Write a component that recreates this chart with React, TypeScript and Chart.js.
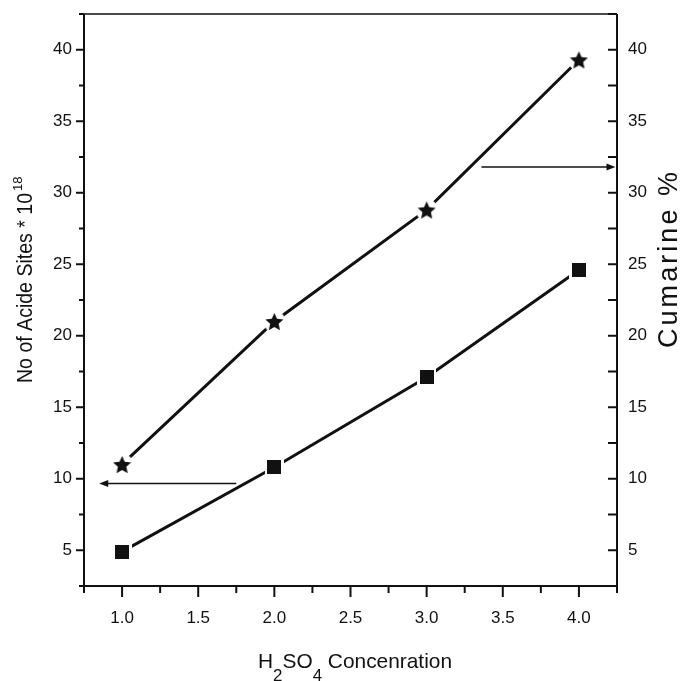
import React, { useEffect, useRef } from 'react';
import { Chart, registerables } from 'chart.js';

Chart.register(...registerables);

// ---- data ----
const concentration = [1.0, 2.0, 3.0, 4.0];
const acidSites = [4.9, 10.8, 17.1, 24.6]; // squares (left axis)
const cumarine = [11.0, 21.0, 28.8, 39.3]; // stars (right axis)
const xTickLabels = ['1.0', '1.5', '2.0', '2.5', '3.0', '3.5', '4.0'];
const yTickLabels = ['5', '10', '15', '20', '25', '30', '35', '40'];
const xRange = [0.75, 4.25];
const yRange = [2.5, 42.5];
// arrows in data units: [fromX, toX, y]
const arrowAcid = [1.75, 0.85, 9.67];
const arrowCumarine = [3.36, 4.24, 31.8];

const INK = '#111';
const FONT = "'Liberation Sans', Arial, sans-serif";

function makeMarker(kind: string, size: number, color: string) {
  const c = document.createElement('canvas');
  c.width = size;
  c.height = size;
  const g = c.getContext('2d') as CanvasRenderingContext2D;
  g.fillStyle = color;
  if (kind === 'square') {
    g.fillRect(0, 0, size, size);
  } else if (kind === 'circle') {
    g.beginPath();
    g.arc(size / 2, size / 2, size / 2, 0, Math.PI * 2);
    g.fill();
  } else {
    const cx = size / 2;
    const cy = size / 2 + size * 0.05;
    const ro = size / 2;
    const ri = ro * 0.47;
    g.beginPath();
    for (let i = 0; i < 10; i++) {
      const r = i % 2 === 0 ? ro : ri;
      const a = -Math.PI / 2 + (i * Math.PI) / 5;
      const px = cx + r * Math.cos(a);
      const py = cy + r * Math.sin(a);
      if (i === 0) g.moveTo(px, py);
      else g.lineTo(px, py);
    }
    g.closePath();
    g.fill();
  }
  return c;
}

function drawSpaced(ctx: CanvasRenderingContext2D, text: string, target: number) {
  const w = ctx.measureText(text).width;
  if (w >= target) {
    ctx.save();
    ctx.scale(target / w, 1);
    ctx.fillText(text, 0, 0);
    ctx.restore();
    return;
  }
  const chars = Array.from(text);
  const gap = (target - w) / (chars.length - 1);
  let x = 0;
  for (const ch of chars) {
    ctx.fillText(ch, x, 0);
    x += ctx.measureText(ch).width + gap;
  }
}

const decorPlugin = {
  id: 'decor',
  afterDraw(chart: any) {
    const ctx: CanvasRenderingContext2D = chart.ctx;
    const { left, right, top, bottom } = chart.chartArea;
    const xs = chart.scales.x;
    const ys = chart.scales.y;
    const y2 = chart.scales.y2;
    ctx.save();
    ctx.strokeStyle = INK;
    ctx.fillStyle = INK;
    ctx.lineCap = 'butt';

    // frame
    ctx.lineWidth = 2;
    ctx.beginPath();
    ctx.moveTo(left, top);
    ctx.lineTo(left, bottom);
    ctx.lineTo(right, bottom);
    ctx.lineTo(right, top);
    ctx.stroke();
    ctx.lineWidth = 1.5;
    ctx.beginPath();
    ctx.moveTo(left, top);
    ctx.lineTo(right, top);
    ctx.stroke();

    // ticks
    ctx.lineWidth = 2;
    ctx.beginPath();
    xs.ticks.forEach((t: any) => {
      const p = xs.getPixelForValue(t.value);
      const major = xTickLabels.includes(Number(t.value).toFixed(1));
      ctx.moveTo(p, bottom);
      ctx.lineTo(p, bottom + (major ? 11 : 7));
    });
    ys.ticks.forEach((t: any) => {
      const p = ys.getPixelForValue(t.value);
      const major = yTickLabels.includes(String(t.value));
      ctx.moveTo(left, p);
      ctx.lineTo(left - (major ? 8 : 5), p);
    });
    y2.ticks.forEach((t: any) => {
      const p = y2.getPixelForValue(t.value);
      ctx.moveTo(right, p);
      ctx.lineTo(right - 9, p);
    });
    ctx.stroke();

    // arrows
    const drawArrow = (a: number[], yScale: any) => {
      const x1 = xs.getPixelForValue(a[0]);
      const x2 = xs.getPixelForValue(a[1]);
      const py = yScale.getPixelForValue(a[2]);
      const dir = Math.sign(x2 - x1);
      ctx.lineWidth = 1.6;
      ctx.beginPath();
      ctx.moveTo(x1, py);
      ctx.lineTo(x2 - dir * 6, py);
      ctx.stroke();
      ctx.beginPath();
      ctx.moveTo(x2, py);
      ctx.lineTo(x2 - dir * 9, py - 3.5);
      ctx.lineTo(x2 - dir * 9, py + 3.5);
      ctx.closePath();
      ctx.fill();
    };
    drawArrow(arrowAcid, ys);
    drawArrow(arrowCumarine, y2);

    // left title
    ctx.textAlign = 'left';
    ctx.textBaseline = 'alphabetic';
    ctx.save();
    ctx.translate(32, 383);
    ctx.rotate(-Math.PI / 2);
    ctx.font = `22px ${FONT}`;
    drawSpaced(ctx, 'No of Acide Sites * 10', 190);
    ctx.font = `13px ${FONT}`;
    ctx.fillText('18', 192, -10);
    ctx.restore();

    // right title
    ctx.save();
    ctx.translate(677, 348);
    ctx.rotate(-Math.PI / 2);
    ctx.font = `27px ${FONT}`;
    drawSpaced(ctx, 'Cumarine %', 176);
    ctx.restore();

    // x title with subscripts
    const segs: [string, boolean][] = [
      ['H', false],
      ['2', true],
      ['SO', false],
      ['4', true],
      [' Concenration', false],
    ];
    const mainF = `21px ${FONT}`;
    const subF = `17px ${FONT}`;
    let total = 0;
    segs.forEach(([s, sub]) => {
      ctx.font = sub ? subF : mainF;
      total += ctx.measureText(s).width;
    });
    const sc = 194 / total;
    ctx.save();
    ctx.translate(258, 668);
    ctx.scale(sc, 1);
    let cx = 0;
    segs.forEach(([s, sub]) => {
      ctx.font = sub ? subF : mainF;
      ctx.fillText(s, cx, sub ? 13 : 0);
      cx += ctx.measureText(s).width;
    });
    ctx.restore();

    ctx.restore();
  },
};

export default function App() {
  const ref = useRef<HTMLCanvasElement | null>(null);

  useEffect(() => {
    document.body.style.margin = '0';
    const canvas = ref.current;
    if (!canvas) return;

    const square = makeMarker('square', 14, INK);
    const star = makeMarker('star', 19, INK);
    const squareHalo = makeMarker('square', 19, '#fff');
    const starHalo = makeMarker('circle', 22, '#fff');

    const acidPts = concentration.map((x, i) => ({ x, y: acidSites[i] }));
    const cumPts = concentration.map((x, i) => ({ x, y: cumarine[i] }));

    const markerDs = (data: any, style: any, axis: string, order: number) => ({
      data,
      yAxisID: axis,
      showLine: false,
      pointStyle: style,
      pointRadius: 8,
      pointHoverRadius: 8,
      borderWidth: 0,
      pointBorderWidth: 0,
      order,
    });
    const lineDs = (data: any, axis: string) => ({
      data,
      yAxisID: axis,
      showLine: true,
      borderColor: INK,
      borderWidth: 3,
      pointRadius: 0,
      tension: 0,
      order: 2,
    });

    const zeroPad = (s: any) => {
      s.paddingTop = 0;
      s.paddingBottom = 0;
      s.paddingLeft = 0;
      s.paddingRight = 0;
    };

    const chart = new Chart(canvas, {
      type: 'scatter',
      data: {
        datasets: [
          markerDs(acidPts, square, 'y', 0),
          markerDs(cumPts, star, 'y2', 0),
          markerDs(acidPts, squareHalo, 'y', 1),
          markerDs(cumPts, starHalo, 'y2', 1),
          lineDs(acidPts, 'y'),
          lineDs(cumPts, 'y2'),
        ] as any,
      },
      options: {
        responsive: false,
        animation: false,
        events: [],
        layout: { padding: { top: 14, left: 0, right: 0, bottom: 0 } },
        plugins: { legend: { display: false }, tooltip: { enabled: false } },
        scales: {
          x: {
            type: 'linear',
            min: xRange[0],
            max: xRange[1],
            afterFit: (s: any) => {
              s.height = 95;
              zeroPad(s);
            },
            grid: { display: false, drawTicks: false },
            border: { display: false },
            ticks: {
              stepSize: 0.25,
              autoSkip: false,
              maxRotation: 0,
              padding: 22,
              color: INK,
              font: { family: FONT, size: 17 },
              callback: (v: any) => {
                const s = Number(v).toFixed(1);
                return xTickLabels.includes(s) ? s : '';
              },
            },
          },
          y: {
            type: 'linear',
            position: 'left',
            min: yRange[0],
            max: yRange[1],
            afterFit: (s: any) => {
              s.width = 84;
              zeroPad(s);
            },
            grid: { display: false, drawTicks: false },
            border: { display: false },
            ticks: {
              stepSize: 2.5,
              autoSkip: false,
              padding: 12,
              color: INK,
              font: { family: FONT, size: 17 },
              callback: (v: any) => (yTickLabels.includes(String(v)) ? String(v) : ''),
            },
          },
          y2: {
            type: 'linear',
            position: 'right',
            min: yRange[0],
            max: yRange[1],
            afterFit: (s: any) => {
              s.width = 63;
              zeroPad(s);
            },
            grid: { display: false, drawTicks: false },
            border: { display: false },
            ticks: {
              stepSize: 2.5,
              autoSkip: false,
              padding: 11,
              color: INK,
              font: { family: FONT, size: 17 },
              callback: (v: any) => (yTickLabels.includes(String(v)) ? String(v) : ''),
            },
          },
        },
      } as any,
      plugins: [decorPlugin],
    });

    return () => chart.destroy();
  }, []);

  return (
    <div style={{ width: 680, height: 681, background: '#fff' }}>
      <canvas ref={ref} width={680} height={681} style={{ display: 'block' }} />
    </div>
  );
}
